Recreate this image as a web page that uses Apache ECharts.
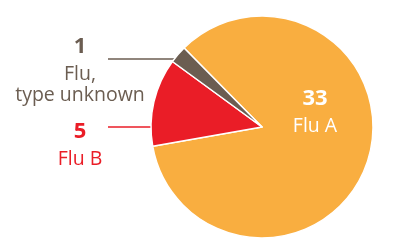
<!DOCTYPE html>
<html>
<head>
<meta charset="utf-8">
<script src="https://cdn.jsdelivr.net/npm/echarts@6/dist/echarts.min.js"></script>
<style>
  html, body { margin: 0; padding: 0; background: #fff; }
  #chart { width: 400px; height: 250px; }
</style>
</head>
<body>
<div id="chart"></div>
<script>
const names = ['Flu A', 'Flu B', 'Flu, type unknown'];
const labels = ['Flu A', 'Flu B', 'Flu,\ntype unknown'];
const counts = [33, 5, 1];
const colors = ['#f9ae40', '#ea1d27', '#6b5d51'];
const textColors = ['#ffffff', '#ea1d27', '#6b5d51'];

// pie geometry
const cx = 262;
const cy = 127;
const radius = 111;

// where the label blocks sit (center x, top y) and the y of their leader lines
const labelSpots = [
  { x: 315, y: 82, lineY: null },
  { x: 80, y: 115, lineY: 127 },
  { x: 80, y: 30, lineY: 59 }
];
const lineStartX = 108;
const font = 'Open Sans';

const chart = echarts.init(document.getElementById('chart'));

chart.setOption({
  animation: false,
  textStyle: { fontFamily: font },
  series: [{
    type: 'pie',
    center: [cx, cy],
    radius: radius,
    startAngle: 134.6,
    clockwise: true,
    avoidLabelOverlap: false,
    itemStyle: { borderColor: '#fff', borderWidth: 1.5 },
    label: {
      show: true,
      position: 'outside',
      align: 'center',
      formatter: p => '{num|' + p.value + '}\n{name|' + labels[p.dataIndex] + '}',
      rich: {
        num: { fontFamily: font, fontWeight: 'bold', fontSize: 22, lineHeight: 34, align: 'center' },
        name: { fontFamily: font, fontSize: 19.5, lineHeight: 21, align: 'center' }
      }
    },
    labelLine: { show: true, length: 10, length2: 20, smooth: false, lineStyle: { width: 1.3 } },
    labelLayout: params => {
      const spot = labelSpots[params.dataIndex];
      const out = { x: spot.x, y: spot.y, align: 'center', verticalAlign: 'top' };
      if (spot.lineY != null) {
        const dy = spot.lineY - cy;
        const edgeX = cx - Math.sqrt(radius * radius - dy * dy);
        out.labelLinePoints = [[edgeX, spot.lineY], [edgeX - 1, spot.lineY], [lineStartX, spot.lineY]];
      }
      return out;
    },
    data: counts.map((v, i) => ({
      name: names[i],
      value: v,
      itemStyle: { color: colors[i] },
      label: {
        position: i === 0 ? 'inside' : 'outside',
        color: textColors[i],
        rich: { num: { color: textColors[i] }, name: { color: textColors[i] } }
      },
      labelLine: { show: i !== 0, lineStyle: { color: colors[i] } }
    }))
  }]
});
</script>
</body>
</html>
